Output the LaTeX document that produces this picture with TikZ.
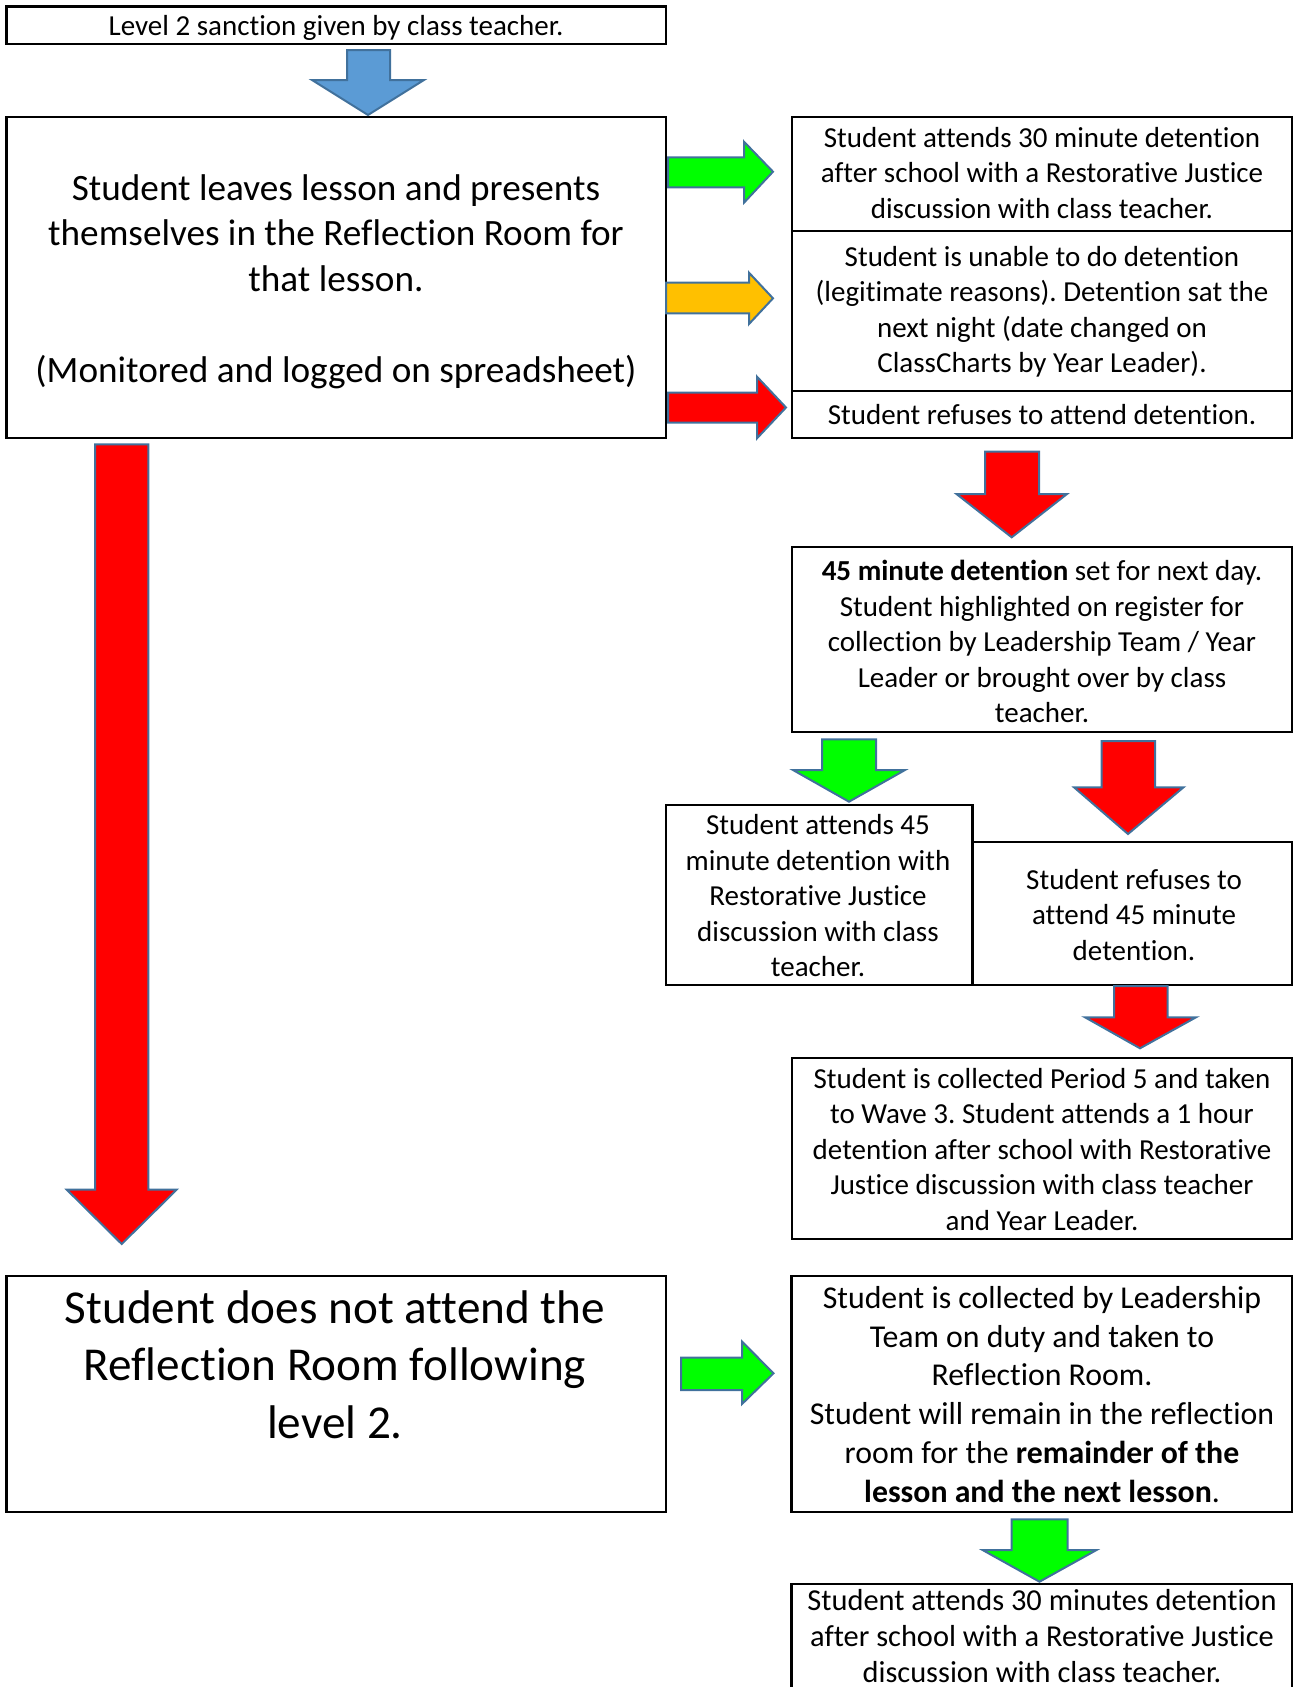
\documentclass[tikz,border=0pt]{standalone}
\usepackage{fontspec}
\setmainfont{Carlito}[Ligatures=NoCommon]
\usepackage{xcolor}
\usepackage{tikz}
\frenchspacing

\definecolor{arrowedge}{RGB}{65,113,156}
\definecolor{arrowblue}{RGB}{91,155,213}
\definecolor{arrowgreen}{RGB}{0,255,0}
\definecolor{arrowred}{RGB}{255,0,0}
\definecolor{arrowamber}{RGB}{255,192,0}

\begin{document}
\begin{tikzpicture}[x=0.5pt,y=-0.5pt,
  box/.style={line width=1.1pt},
  blk/.style={draw=arrowedge,line width=1pt,line join=miter},
  txt/.style={inner sep=0pt,align=center,font=\fontsize{14.5}{17.75}\selectfont},
  midtxt/.style={txt,font=\fontsize{15.9}{19.45}\selectfont},
  bigtxt/.style={txt,font=\fontsize{18.6}{22.7}\selectfont},
  hugetxt/.style={txt,font=\fontsize{23.6}{28.75}\selectfont}]
\useasboundingbox (0,0) rectangle (1293,1687);

%Rectangles
\draw [box] (6.5,6.5) rectangle (666,44) ;
\draw [box] (6.5,116.7) rectangle (666,437.7) ;
\draw [box] (792,116.7) rectangle (1292,230.7) ;
\draw [box] (792,230.7) rectangle (1292,390.7) ;
\draw [box] (792,390.7) rectangle (1292,437.7) ;
\draw [box] (792,547.3) rectangle (1292,731.7) ;
\draw [box] (665.8,805) rectangle (972.4,985) ;
\draw [box] (972.4,842.3) rectangle (1292,985) ;
\draw [box] (792,1057.7) rectangle (1292,1239) ;
\draw [box] (6.5,1276) rectangle (666,1511.7) ;
\draw [box] (791.5,1275.7) rectangle (1292,1511.7) ;
\draw [box] (791.5,1584) rectangle (1292,1710) ;

%Down Arrows
\draw [blk,fill=arrowblue] (347,50) -- (390,50) -- (390,80) -- (424,80) -- (368,115) -- (312,80) -- (347,80) -- cycle ;
\draw [blk,fill=arrowred] (985,451.7) -- (1039,451.7) -- (1039,494) -- (1067,494) -- (1011.7,537.3) -- (956.5,494) -- (985,494) -- cycle ;
\draw [blk,fill=arrowgreen] (822,739.3) -- (876,739.3) -- (876,770) -- (905,770) -- (849,801.7) -- (793,770) -- (822,770) -- cycle ;
\draw [blk,fill=arrowred] (1101.5,741) -- (1155,741) -- (1155,787.3) -- (1183.5,787.3) -- (1128,834) -- (1074,787.3) -- (1101.5,787.3) -- cycle ;
\draw [blk,fill=arrowred] (1114,986) -- (1167.7,986) -- (1167.7,1017.3) -- (1196,1017.3) -- (1140,1048.3) -- (1085,1017.3) -- (1114,1017.3) -- cycle ;
\draw [blk,fill=arrowred] (95,444.4) -- (148.3,444.4) -- (148.3,1189.6) -- (176.7,1189.6) -- (121.7,1244) -- (66.7,1189.6) -- (95,1189.6) -- cycle ;
\draw [blk,fill=arrowgreen] (1011.5,1519.3) -- (1067.6,1519.3) -- (1067.6,1550) -- (1096.5,1550) -- (1039.5,1581.7) -- (982.6,1550) -- (1011.5,1550) -- cycle ;

%Right Arrows
\draw [blk,fill=arrowgreen] (668,157.3) -- (744,157.3) -- (744,141.7) -- (773,171.7) -- (744,202.7) -- (744,187.3) -- (668,187.3) -- cycle ;
\draw [blk,fill=arrowamber] (666,282.7) -- (749,282.7) -- (749,272.7) -- (773,298.3) -- (749,324) -- (749,313.3) -- (666,313.3) -- cycle ;
\draw [blk,fill=arrowred] (668,392.7) -- (757,392.7) -- (757,376.7) -- (786,407.5) -- (757,438.3) -- (757,422.7) -- (668,422.7) -- cycle ;
\draw [blk,fill=arrowgreen] (681,1357.5) -- (742,1357.5) -- (742,1341.5) -- (773.5,1373.3) -- (742,1404) -- (742,1390) -- (681,1390) -- cycle ;

% Text Node
\node [txt] (sanction) at (336,28) {Level 2 sanction given by class teacher.};
% Text Node
\node [bigtxt] (leaves) at (336,281.5) {Student leaves lesson and presents\\themselves in the Reflection Room for\\that lesson.\\\mbox{}\\(Monitored and logged on spreadsheet)};
% Text Node
\node [txt] (attends) at (1042,172.8) {Student attends 30 minute detention\\after school with a Restorative Justice\\discussion with class teacher.};
% Text Node
\node [txt] (unable) at (1042,311.7) {Student is unable to do detention\\(legitimate reasons). Detention sat the\\next night (date changed on\\ClassCharts by Year Leader).};
% Text Node
\node [txt] (refuses) at (1042,415) {Student refuses to attend detention.};
% Text Node
\node [txt] (setdet) at (1042,641.7) {\textbf{45 minute detention} set for next day.\\Student highlighted on register for\\collection by Leadership Team / Year\\Leader or brought over by class\\teacher.};
% Text Node
\node [txt] (attendsdet) at (818,896) {Student attends 45\\minute detention with\\Restorative Justice\\discussion with class\\teacher.};
% Text Node
\node [txt] (refusesdet) at (1134,914.7) {Student refuses to\\attend 45 minute\\detention.};
% Text Node
\node [txt] (wave) at (1042,1149.5) {Student is collected Period 5 and taken\\to Wave 3. Student attends a 1 hour\\detention after school with Restorative\\Justice discussion with class teacher\\and Year Leader.};
% Text Node
\node [hugetxt] (notattend) at (335,1364.5) {Student does not attend the\\Reflection Room following\\level 2.};
% Text Node
\node [midtxt] (collected) at (1042,1394.5) {Student is collected by Leadership\\Team on duty and taken to\\Reflection Room.\\Student will remain in the reflection\\room for the \textbf{remainder of the}\\\textbf{lesson and the next lesson}.};
% Text Node
\node [txt,font=\fontsize{15.2}{18.1}\selectfont] (thirty) at (1042,1636) {Student attends 30 minutes detention\\after school with a Restorative Justice\\discussion with class teacher.};
\end{tikzpicture}
\end{document}
